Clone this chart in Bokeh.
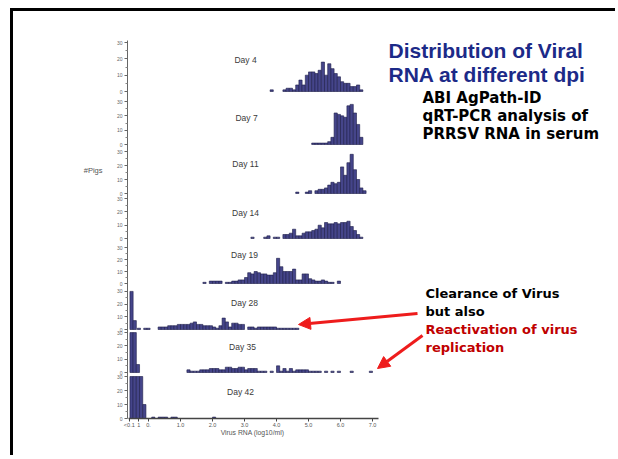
from bokeh.plotting import figure
from bokeh.models import (Range1d, FixedTicker, LinearAxis, Arrow, NormalHead,
                          ColumnDataSource, InlineStyleSheet)
from bokeh.embed import file_html
from bokeh.resources import INLINE
from bokeh.core.properties import value

# ---------------- data (bin lower edge in log10 copies/ml, number of pigs) -------------
days = ["Day 4", "Day 7", "Day 11", "Day 14", "Day 19", "Day 28", "Day 35", "Day 42"]
BIN_W = 0.1

d4_bins = [3.8, 4.2, 4.3, 4.4, 4.5, 4.6, 4.7, 4.8, 4.9, 5.0, 5.1, 5.2, 5.3, 5.4, 5.5, 5.6,
           5.7, 5.8, 5.9, 6.0, 6.1, 6.2, 6.3, 6.4, 6.5, 6.6]
d4_pigs = [1, 1, 2, 2, 1, 4, 7, 4, 10, 12, 12, 11, 13, 18, 10, 17,
           14, 11, 9, 6, 5, 5, 3, 3, 4, 1]

d7_bins = [5.1, 5.2, 5.3, 5.4, 5.5, 5.6, 5.7, 5.8, 5.9, 6.0, 6.1, 6.2, 6.3, 6.4, 6.5, 6.6]
d7_pigs = [1, 1, 1, 1, 1, 2, 5, 22, 21, 20, 19, 27, 28, 22, 14, 5]

d11_bins = [4.6, 4.9, 5.0, 5.2, 5.3, 5.4, 5.5, 5.6, 5.7, 5.8, 5.9, 6.0, 6.1, 6.2, 6.3,
            6.4, 6.5, 6.6, 6.7]
d11_pigs = [1, 1, 2, 2, 3, 3, 4, 6, 8, 7, 8, 19, 13, 22, 28, 17, 10, 4, 2]

d14_bins = [3.2, 3.6, 3.7, 3.9, 4.0, 4.2, 4.3, 4.4, 4.5, 4.6, 4.7, 4.8, 4.9, 5.0, 5.1,
            5.2, 5.3, 5.4, 5.5, 5.6, 5.7, 5.8, 5.9, 6.0, 6.1, 6.2, 6.3, 6.4, 6.5, 6.6]
d14_pigs = [1, 1, 2, 1, 1, 3, 3, 4, 7, 2, 2, 4, 5, 5, 6,
            7, 10, 8, 12, 11, 11, 12, 11, 12, 12, 13, 9, 6, 3, 1]

d19_bins = [1.7, 1.9, 2.0, 2.1, 2.2, 2.4, 2.5, 2.6, 2.7, 2.8, 2.9, 3.0, 3.1, 3.2, 3.3,
            3.4, 3.5, 3.6, 3.7, 3.8, 3.9, 4.0, 4.1, 4.2, 4.3, 4.4, 4.5, 4.6, 4.7, 4.8,
            4.9, 5.0, 5.1, 5.2, 5.3, 5.4, 5.5, 5.6, 5.7, 5.9]
d19_pigs = [1, 2, 2, 2, 2, 1, 1, 2, 2, 3, 3, 5, 9, 8, 10,
            9, 8, 8, 7, 7, 9, 21, 14, 10, 10, 10, 12, 3, 3, 8,
            8, 4, 3, 2, 2, 3, 2, 1, 1, 2]

d28_bins = [-0.58, -0.48, -0.35, -0.15, -0.05, 0.3, 0.4, 0.5, 0.6, 0.7, 0.8, 0.9, 1.0,
            1.1, 1.2, 1.3, 1.4, 1.5, 1.6, 1.7, 1.8, 1.9, 2.0, 2.1, 2.2, 2.3, 2.4, 2.5,
            2.6, 2.7, 2.8, 2.9, 3.1, 3.2, 3.3, 3.4, 3.5, 3.6, 3.7, 3.8, 3.9, 4.0, 4.1,
            4.2, 4.3, 4.4, 4.5, 4.6]
d28_pigs = [30, 7, 1, 1, 1, 2, 2, 2, 3, 3, 3, 4, 4,
            4, 4, 5, 6, 4, 4, 3, 3, 3, 2, 1, 3, 9, 6, 2,
            5, 5, 4, 4, 2, 2, 1, 2, 2, 2, 2, 2, 2, 1, 1,
            1, 1, 1, 1, 1]

d35_bins = [-0.58, -0.48, -0.38, 1.2, 1.3, 1.4, 1.5, 1.6, 1.7, 1.8, 1.9, 2.0, 2.1, 2.2,
            2.3, 2.4, 2.5, 2.6, 2.7, 2.8, 2.9, 3.0, 3.1, 3.2, 3.3, 3.4, 3.5, 3.6, 3.8,
            4.0, 4.1, 4.2, 4.3, 4.4, 4.5, 4.6, 4.7, 4.8, 4.9, 5.0, 5.1, 5.2, 5.3, 5.5,
            5.7, 5.9, 6.3, 6.9]
d35_pigs = [30, 30, 6, 2, 1, 1, 1, 2, 2, 2, 3, 3, 3, 2,
            2, 4, 4, 3, 3, 4, 4, 2, 3, 3, 3, 1, 1, 1, 1,
            5, 1, 3, 1, 3, 1, 2, 2, 2, 2, 1, 1, 1, 1, 1,
            1, 1, 1, 1]

d42_bins = [-0.58, -0.48, -0.38, -0.28, -0.18, 0.1, 0.3, 0.4, 0.5, 0.7, 0.8, 2.0]
d42_pigs = [30, 30, 30, 30, 10, 1, 1, 1, 1, 1, 1, 1]

all_bins = [d4_bins, d7_bins, d11_bins, d14_bins, d19_bins, d28_bins, d35_bins, d42_bins]
all_pigs = [d4_pigs, d7_pigs, d11_pigs, d14_pigs, d19_pigs, d28_pigs, d35_pigs, d42_pigs]

pig_ticks = [0, 10, 20, 30]
pig_minor = [5, 15, 25]
x_tick_vals = [-0.6, -0.3, 0.0, 1.0, 2.0, 3.0, 4.0, 5.0, 6.0, 7.0]
x_tick_text = ["<0.1", "1", "0.", "1.0", "2.0", "3.0", "4.0", "5.0", "6.0", "7.0"]
x_title = "Virus RNA (log10/ml)"
y_title = "#Pigs"

title_lines = ["Distribution of Viral", "RNA at different dpi"]
method_lines = ["ABI AgPath-ID", "qRT-PCR analysis of", "PRRSV RNA in serum"]
note_black = ["Clearance of Virus", "but also"]
note_red = ["Reactivation of virus", "replication"]

# ---------------- layout (reference pixel geometry) ----------------
ORIGIN_X, ORIGIN_Y = 13, 11     # page px where the canvas starts (margin + 3px border)
FRAME_LEFT_REF = 127
FRAME_BOTTOM_REF = 418
X0_REF = 148                    # page x of RNA = 0
PX_PER_LOG = 32.0
W, H = 605, 447
panel_base_ref = [91, 144, 193, 238, 283, 329, 372, 418]
panel_px_per_pig = [1.633, 1.433, 1.4, 1.33, 1.2, 1.27, 1.33, 1.4]
day_label_ref = [(245, 59), (246, 117), (245, 163), (245, 212), (244, 254), (244, 302),
                 (242, 346), (240, 391)]


def rx(px):
    return (px - X0_REF) / PX_PER_LOG


def ry(py):
    return FRAME_BOTTOM_REF - py


left_border = FRAME_LEFT_REF - ORIGIN_X
bottom_border = H - (FRAME_BOTTOM_REF - ORIGIN_Y)
frame_w = W - left_border
frame_h = FRAME_BOTTOM_REF - ORIGIN_Y

p = figure(width=W, height=H, output_backend="svg", toolbar_location=None, tools="",
           x_range=Range1d(rx(FRAME_LEFT_REF), rx(FRAME_LEFT_REF) + frame_w / PX_PER_LOG),
           y_range=Range1d(0, frame_h),
           min_border_left=left_border, min_border_right=0, min_border_top=0,
           min_border_bottom=bottom_border)
p.toolbar.logo = None
p.css_classes = ["slide-frame"]
p.stylesheets = [InlineStyleSheet(css=(
    ":host(.slide-frame) { margin-left: 10px; margin-top: 8px; "
    "border-top: 3px solid #000; border-left: 3px solid #000; }"))]
p.outline_line_color = None
p.xgrid.visible = False
p.ygrid.visible = False
p.background_fill_color = "white"
p.border_fill_color = "white"

bar_fill = "#45458a"
bar_line = "#1c1c48"
major_y, minor_y, overrides_y = [], [], {}
for i, (bins, pigs) in enumerate(zip(all_bins, all_pigs)):
    base = ry(panel_base_ref[i])
    s = panel_px_per_pig[i]
    name = "panel%d" % i
    p.extra_y_ranges[name] = Range1d(-base / s, (frame_h - base) / s)
    src = ColumnDataSource(dict(left=bins, right=[b + BIN_W for b in bins],
                                top=pigs, bottom=[0] * len(pigs)))
    p.quad(left="left", right="right", top="top", bottom="bottom", source=src,
           y_range_name=name, fill_color=bar_fill, line_color=bar_line, line_width=0.6)
    for t in pig_ticks:
        pos = round(base + t * s, 3)
        major_y.append(pos)
        overrides_y[pos] = str(t)
    for t in pig_minor:
        minor_y.append(round(base + t * s, 3))
    lx, ly = day_label_ref[i]
    p.text(x=[rx(lx)], y=[ry(ly)], text=[days[i]], text_font=value("Liberation Sans"),
           text_font_size="8.5px", text_color="#3a3a3a", text_align="center",
           text_baseline="middle")

# y axis (one tick set per panel)
ya = p.yaxis[0]
ya.ticker = FixedTicker(ticks=major_y, minor_ticks=minor_y)
ya.major_label_overrides = overrides_y
ya.bounds = (0, ry(40))
ya.axis_line_color = "#666666"
ya.major_tick_line_color = "#666666"
ya.minor_tick_line_color = "#888888"
ya.major_tick_out = 3
ya.major_tick_in = 0
ya.minor_tick_out = 2
ya.minor_tick_in = 0
ya.major_label_text_font_size = "5px"
ya.major_label_text_color = "#666666"
ya.major_label_standoff = 2
ya.major_label_text_font = "Liberation Sans"

# "#Pigs" as the label of a tick-less outer axis
pig_pos = ry(170)
ya2 = LinearAxis(ticker=FixedTicker(ticks=[pig_pos], minor_ticks=[]),
                 major_label_overrides={pig_pos: y_title})
ya2.axis_line_color = None
ya2.major_tick_line_color = None
ya2.minor_tick_line_color = None
ya2.major_tick_out = 0
ya2.major_tick_in = 0
ya2.major_label_standoff = 11
ya2.major_label_text_font = "Liberation Sans"
ya2.major_label_text_font_size = "7.5px"
ya2.major_label_text_color = "#555555"
p.add_layout(ya2, "left")

xa = p.xaxis[0]
xa.ticker = FixedTicker(ticks=x_tick_vals, minor_ticks=[])
xa.major_label_overrides = dict(zip(x_tick_vals, x_tick_text))
xa.bounds = (-0.62, 7.2)
xa.axis_line_color = "#444444"
xa.axis_line_width = 1.4
xa.major_tick_line_color = "#444444"
xa.major_tick_out = 3
xa.major_tick_in = 0
xa.major_label_text_font_size = "5.5px"
xa.major_label_text_color = "#555555"
xa.major_label_text_font = "Liberation Sans"
xa.major_label_standoff = 0

xt_pos = rx(252)
xa2 = LinearAxis(ticker=FixedTicker(ticks=[xt_pos], minor_ticks=[]),
                 major_label_overrides={xt_pos: x_title})
xa2.axis_line_color = None
xa2.major_tick_line_color = None
xa2.minor_tick_line_color = None
xa2.major_tick_out = 0
xa2.major_tick_in = 0
xa2.major_label_standoff = -2
xa2.major_label_text_font = "Liberation Sans"
xa2.major_label_text_font_size = "6.8px"
xa2.major_label_text_color = "#555555"
p.add_layout(xa2, "below")

# title and notes
p.text(x=[rx(388)] * 2, y=[ry(50), ry(74)], text=title_lines,
       text_font=value("Liberation Sans"), text_font_style="bold", text_font_size="21px",
       text_color="#1c2a88", text_baseline="alphabetic")
p.text(x=[rx(422)] * 3, y=[ry(97), ry(115), ry(133)], text=method_lines,
       text_font=value("DejaVu Sans"), text_font_style="bold", text_font_size="15px",
       text_color="#000000", text_baseline="alphabetic")
p.text(x=[rx(425)] * 2, y=[ry(293), ry(311)], text=note_black,
       text_font=value("DejaVu Sans"), text_font_style="bold", text_font_size="13px",
       text_color="#000000", text_baseline="alphabetic")
p.text(x=[rx(425)] * 2, y=[ry(329), ry(347)], text=note_red,
       text_font=value("DejaVu Sans"), text_font_style="bold", text_font_size="13px",
       text_color="#c00000", text_baseline="alphabetic")

red = "#ee1c1c"
p.add_layout(Arrow(x_start=rx(417), y_start=ry(313), x_end=rx(298), y_end=ry(324),
                   line_color=red, line_width=3,
                   end=NormalHead(size=12, fill_color=red, line_color=red)))
p.add_layout(Arrow(x_start=rx(422), y_start=ry(335), x_end=rx(377), y_end=ry(368),
                   line_color=red, line_width=3,
                   end=NormalHead(size=12, fill_color=red, line_color=red)))

open("out.html", "w").write(file_html(p, INLINE))
